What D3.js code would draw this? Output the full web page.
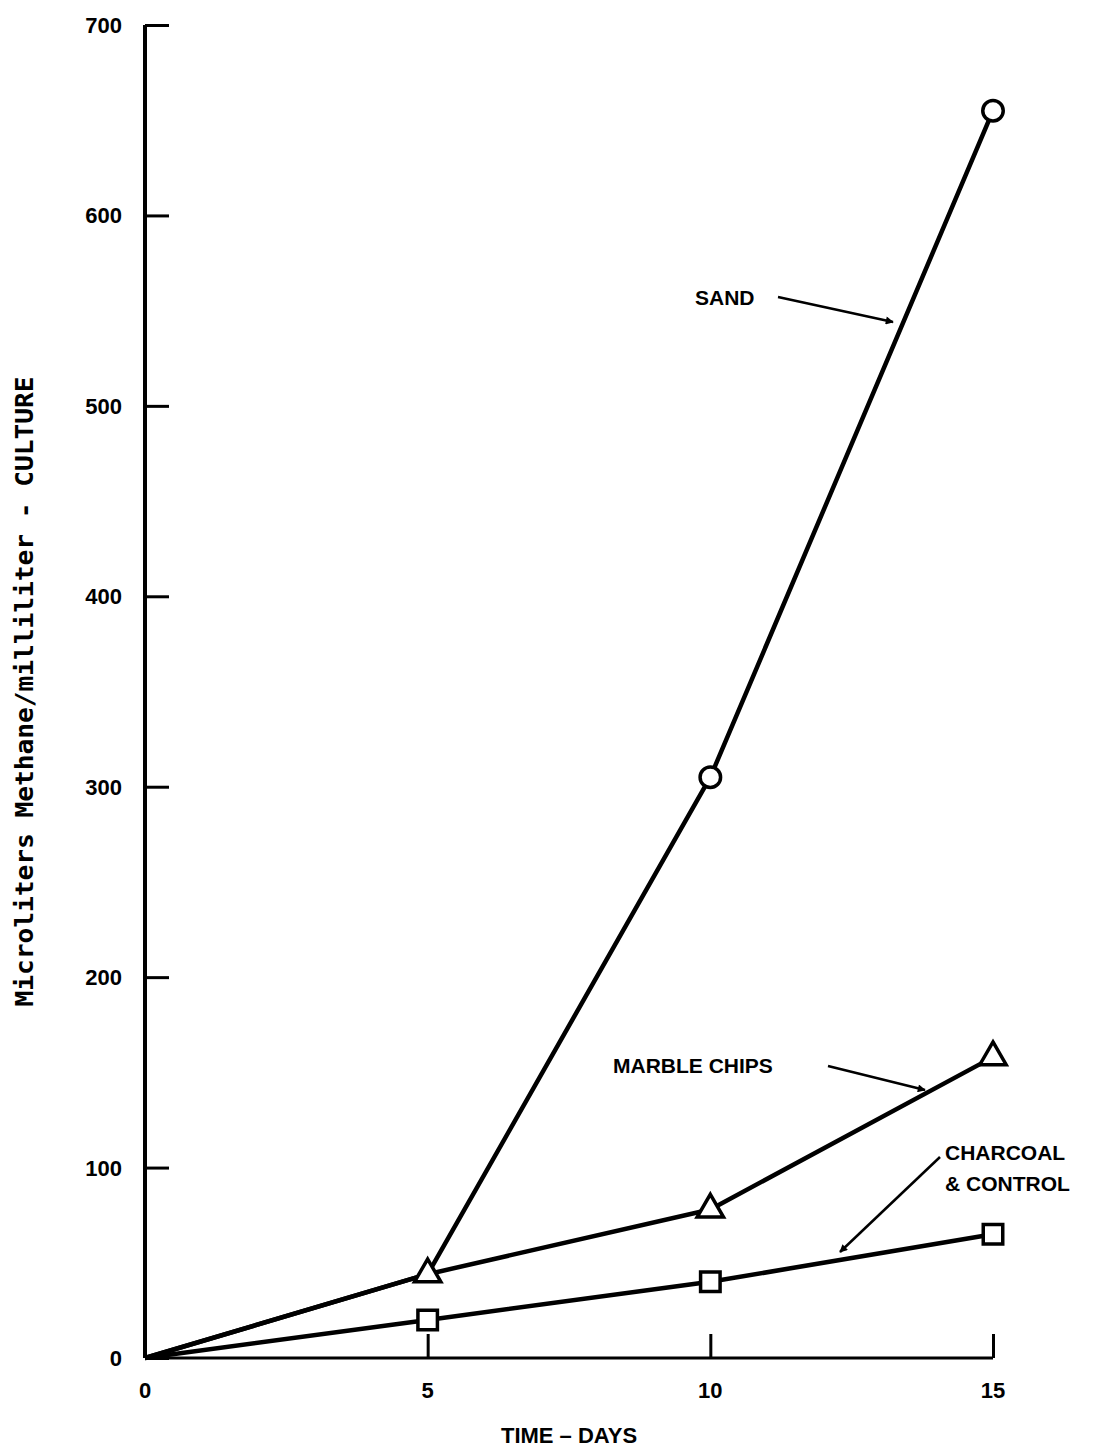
<!DOCTYPE html>
<html>
<head>
<meta charset="utf-8">
<script src="https://cdn.jsdelivr.net/npm/d3@7"></script>
<style>
  html, body { margin: 0; padding: 0; background: #fff; }
  svg { display: block; }
  .tick-label { font-family: "Liberation Sans", Arial, sans-serif; font-weight: bold; font-size: 22px; fill: #000; }
  .note { font-family: "Liberation Sans", Arial, sans-serif; font-weight: bold; font-size: 21px; fill: #000; }
</style>
</head>
<body>
<script>
// Methane production per millilitre of culture, by support medium
const days = [0, 5, 10, 15];
const sand = [0, 44, 305, 655];
const marbleChips = [0, 44, 78, 158];
const charcoalControl = [0, 20, 40, 65];
const xTicks = [0, 5, 10, 15];
const yTicks = [0, 100, 200, 300, 400, 500, 600, 700];

const W = 1115, H = 1453;
const svg = d3.select("body").append("svg").attr("width", W).attr("height", H);

const x = d3.scaleLinear().domain([0, 15]).range([145, 993]);
const y = d3.scaleLinear().domain([0, 700]).range([1358, 25]);

// arrowhead
svg.append("defs").append("marker")
  .attr("id", "arrow").attr("viewBox", "0 0 10 10")
  .attr("refX", 9).attr("refY", 5)
  .attr("markerWidth", 16).attr("markerHeight", 8)
  .attr("markerUnits", "userSpaceOnUse")
  .attr("orient", "auto")
  .append("path").attr("d", "M0,0 L10,5 L0,10 z").attr("fill", "#000");

// axes
const yAxis = d3.axisLeft(y).tickValues(yTicks).tickSize(-24).tickFormat("");
const gy = svg.append("g").attr("transform", `translate(${x(0)},0)`).call(yAxis);
gy.select(".domain").attr("stroke", "#000").attr("stroke-width", 4).attr("d", `M0,${y(700)}V${y(0)}`);
gy.selectAll(".tick line").attr("stroke", "#000").attr("stroke-width", 3);

const xAxis = d3.axisBottom(x).tickValues([5, 10, 15]).tickSize(-24).tickFormat("");
const gx = svg.append("g").attr("transform", `translate(0,${y(0)})`).call(xAxis);
gx.select(".domain").attr("stroke", "#000").attr("stroke-width", 3).attr("d", `M${x(0)},0H${x(15)}`);
gx.selectAll(".tick line").attr("stroke", "#000").attr("stroke-width", 3);

svg.selectAll(".ylab").data(yTicks).enter().append("text")
  .attr("class", "tick-label").attr("text-anchor", "end")
  .attr("x", 122).attr("y", d => y(d) + 8).text(d => d);

svg.selectAll(".xlab").data(xTicks).enter().append("text")
  .attr("class", "tick-label").attr("text-anchor", "middle")
  .attr("x", d => x(d)).attr("y", 1398).text(d => d);

svg.append("text").attr("class", "tick-label").attr("text-anchor", "middle")
  .attr("x", x(7.5)).attr("y", 1443).text("TIME \u2013 DAYS");

// vertical axis title, centred on the axis
svg.append("text")
  .attr("transform", `translate(33, ${(y(0) + y(700)) / 2}) rotate(-90)`)
  .attr("text-anchor", "middle")
  .attr("font-family", "'DejaVu Sans Mono', monospace")
  .attr("font-weight", "bold").attr("font-size", 25)
  .attr("textLength", 630).attr("lengthAdjust", "spacingAndGlyphs")
  .text("Microliters Methane/milliliter - CULTURE");

// series lines
const line = d3.line().x(d => x(d[0])).y(d => y(d[1]));
const series = [
  { name: "sand", values: sand, shape: "circle" },
  { name: "marble", values: marbleChips, shape: "triangle" },
  { name: "charcoal", values: charcoalControl, shape: "square" }
];
series.forEach(s => {
  const pts = days.map((d, i) => [d, s.values[i]]);
  svg.append("path").datum(pts).attr("d", line)
    .attr("fill", "none").attr("stroke", "#000").attr("stroke-width", 4.5)
    .attr("stroke-linejoin", "round");
});

// markers (days 5, 10, 15), open symbols; sand shares the day-5 triangle
const sym = { circle: d3.symbolCircle, triangle: d3.symbolTriangle, square: d3.symbolSquare };
const symSize = { circle: 330, triangle: 300, square: 380 };
series.forEach(s => {
  const pts = days.map((d, i) => [d, s.values[i]]).filter(p => p[0] > 0);
  const drawn = s.name === "sand" ? pts.filter(p => p[0] > 5) : pts;
  svg.selectAll(null).data(drawn).enter().append("path")
    .attr("d", d3.symbol().type(sym[s.shape]).size(symSize[s.shape]))
    .attr("transform", p => `translate(${x(p[0])},${y(p[1])})`)
    .attr("fill", "#fff").attr("stroke", "#000").attr("stroke-width", 3.5);
});

// callouts
function callout(text, tx, ty, x1, y1, x2, y2) {
  const t = svg.append("g");
  text.forEach((line, i) => t.append("text").attr("class", "note")
    .attr("x", tx).attr("y", ty + i * 31).text(line));
  svg.append("line").attr("x1", x1).attr("y1", y1).attr("x2", x2).attr("y2", y2)
    .attr("stroke", "#000").attr("stroke-width", 2.5).attr("marker-end", "url(#arrow)");
}
callout(["SAND"], 695, 305, 778, 297, 893, 322);
callout(["MARBLE CHIPS"], 613, 1073, 828, 1066, 925, 1090);
callout(["CHARCOAL", "& CONTROL"], 945, 1160, 940, 1157, 840, 1252);
</script>
</body>
</html>
